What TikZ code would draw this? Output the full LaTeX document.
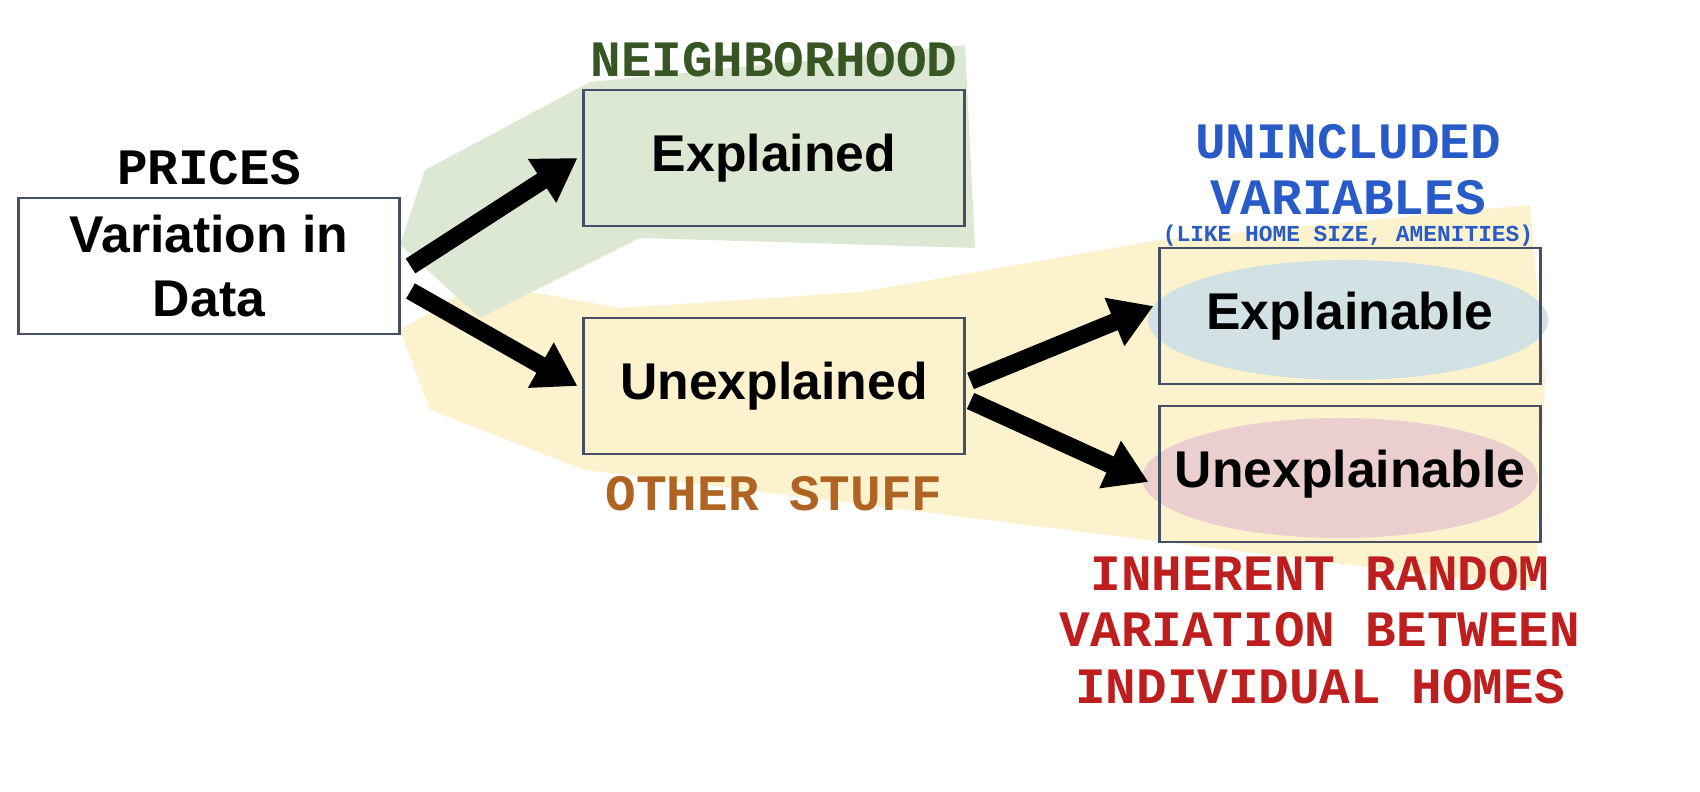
\documentclass[tikz,border=0pt]{standalone}
\usepackage{fontspec}
\setmainfont{Liberation Sans}
\newfontfamily\courierfont{Liberation Mono}
\usetikzlibrary{arrows.meta,positioning,calc}
\definecolor{bandgreen}{RGB}{220,232,212}
\definecolor{bandyellow}{RGB}{252,242,205}
\definecolor{ellblue}{RGB}{209,225,228}
\definecolor{ellred}{RGB}{235,207,206}
\definecolor{boxline}{RGB}{70,80,100}
\definecolor{labgreen}{RGB}{56,86,35}
\definecolor{labblue}{RGB}{40,90,200}
\definecolor{laborange}{RGB}{175,100,35}
\definecolor{labred}{RGB}{190,30,30}

\begin{document}
\begin{tikzpicture}[x=0.01cm, y=-0.01cm,
    box/.style={draw=boxline, thick, minimum width=3.8cm, minimum height=1.36cm,
        font=\fontsize{14.7}{18}\selectfont\bfseries, align=center},
    tag/.style={font=\courierfont\fontsize{14.5}{16}\selectfont\bfseries, align=center},
    bigarrow/.style={line width=5pt, -{Triangle[length=12pt,width=14pt]}}]
	\useasboundingbox (0,0) rectangle (1700,792);
	% background bands
	\fill[bandyellow] (400,330) -- (430,410) -- (585,470) -- (1535,588) -- (1545,380)
	    -- (1530,205) -- (1160,240) -- (860,292) -- (620,308) -- (480,283) -- cycle;
	\fill[bandgreen] (400,245) -- (425,170) -- (590,82) -- (965,45) -- (975,248)
	    -- (640,238) -- (480,318) -- cycle;
	% ellipses
	\fill[ellblue] (1348,320) ellipse (200 and 60);
	\fill[ellred] (1340,478) ellipse (198 and 60);
	% boxes
	\node[box, fill=white] (data) at (209,266) {Variation in\\Data};
	\node[box, fill=bandgreen] (expl) at (774,158) {Explained};
	\node[box, fill=bandyellow] (unexpl) at (774,386) {Unexplained};
	\node[box] (able) at (1350,316) {Explainable};
	\node[box] (unable) at (1350,474) {Unexplainable};
	% labels
	\node[tag] (prices) at (209,168) {PRICES};
	\node[tag, text=labgreen] (hood) at (774,60) {NEIGHBORHOOD};
	\node[tag, text=laborange] (other) at (774,494) {OTHER STUFF};
	\node[tag, text=labblue] (unincl) at (1348,170) {UNINCLUDED\\VARIABLES};
	\node[font=\courierfont\fontsize{6.5}{8}\selectfont\bfseries, text=labblue] (like) at (1348,236) {(LIKE HOME SIZE, AMENITIES)};
	\node[tag, text=labred] (random) at (1320,630) {INHERENT RANDOM\\VARIATION BETWEEN\\INDIVIDUAL HOMES};
	% arrows
	\draw[bigarrow] ($(data.east)+(10,0)$) -- ($(expl.west)+(-5,0)$);
	\draw[bigarrow] ($(data.east)+(10,25)$) -- ($(unexpl.west)+(-5,0)$);
	\draw[bigarrow] ($(unexpl.east)+(5,-5)$) -- ($(able.west)+(-5,-10)$);
	\draw[bigarrow] ($(unexpl.east)+(5,15)$) -- ($(unable.west)+(-10,8)$);
\end{tikzpicture}
\end{document}
